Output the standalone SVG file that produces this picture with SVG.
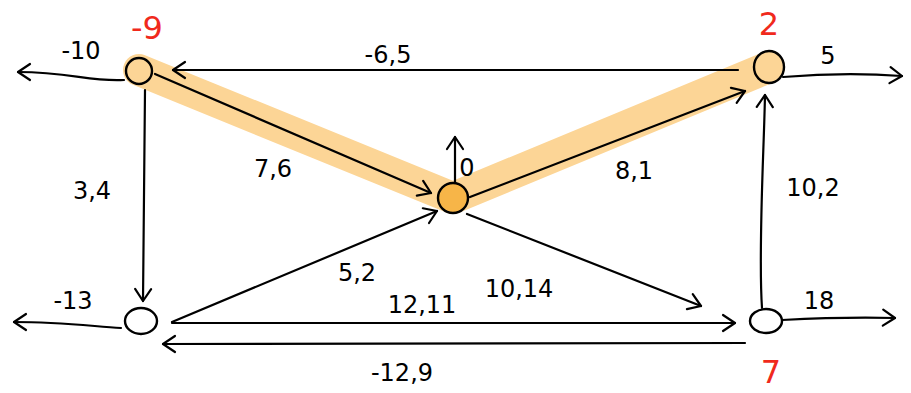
<svg xmlns="http://www.w3.org/2000/svg" width="911" height="393" viewBox="0 0 911 393">
<style>
.e{fill:none;stroke:#000;stroke-width:2.2;stroke-linecap:round;marker-end:url(#ah)}
.n{fill:none;stroke:#000;stroke-width:2.4}
.t{font-family:"DejaVu Sans",sans-serif;font-size:24px;fill:#000;text-anchor:middle}
.r{font-family:"DejaVu Sans",sans-serif;font-size:32px;fill:#f0291c;text-anchor:middle}
</style>
<defs>
<marker id="ah" markerUnits="userSpaceOnUse" markerWidth="20" markerHeight="20" viewBox="0 0 20 20" refX="16" refY="10" orient="auto">
<path d="M4,2 L16,10 L4,18" fill="none" stroke="#000" stroke-width="2.2" stroke-linecap="round" stroke-linejoin="round"/>
</marker>
</defs>
<path d="M139,70 L453,198 L769,67" fill="none" stroke="#fcd596" stroke-width="32" stroke-linecap="round" stroke-linejoin="round"/>
<g id="connectors">
<path class="e" d="M738,70 L173,70"/>
<path class="e" d="M155,74 L431,193"/>
<path class="e" d="M470,197 L745,91"/>
<path class="e" d="M145,90 L143,301"/>
<path class="e" d="M172,322 L437,211"/>
<path class="e" d="M467,214 L701,306"/>
<path class="e" d="M172,323 L735,323"/>
<path class="e" d="M745,343 L163,344"/>
<path class="e" d="M762,308 C758,250 764,150 765,95"/>
<path class="e" d="M124,80 C90,82 70,72 18,72"/>
<path class="e" d="M783,77 C820,74 860,73 902,76"/>
<path class="e" d="M121,328 C90,326 60,322 14,322"/>
<path class="e" d="M782,320 C820,318 860,317 895,318"/>
<path class="e" d="M455,185 L455,137"/>
</g>
<g id="node-a"><circle class="n" cx="139" cy="71" r="13" fill="#fcd596"/><text class="r" x="147" y="39">-9</text></g>
<g id="node-b"><ellipse class="n" cx="769" cy="67" rx="15" ry="16"/><text class="r" x="769" y="35">2</text></g>
<g id="node-c"><circle cx="453" cy="198" r="15" fill="#f7b548" stroke="#000" stroke-width="2.4"/></g>
<g id="node-d"><ellipse class="n" cx="141" cy="321" rx="16" ry="13"/></g>
<g id="node-e"><ellipse class="n" cx="766" cy="321" rx="16" ry="12"/><text class="r" x="771" y="383">7</text></g>
<g id="labels">
<text class="t" x="81" y="59">-10</text>
<text class="t" x="388" y="63">-6,5</text>
<text class="t" x="273" y="177">7,6</text>
<text class="t" x="92" y="199">3,4</text>
<text class="t" x="634" y="179">8,1</text>
<text class="t" x="813" y="196">10,2</text>
<text class="t" x="828" y="64">5</text>
<text class="t" x="467" y="176">0</text>
<text class="t" x="357" y="281">5,2</text>
<text class="t" x="422" y="313">12,11</text>
<text class="t" x="519" y="297">10,14</text>
<text class="t" x="73" y="309">-13</text>
<text class="t" x="819" y="309">18</text>
<text class="t" x="402" y="381">-12,9</text>
</g>
</svg>
